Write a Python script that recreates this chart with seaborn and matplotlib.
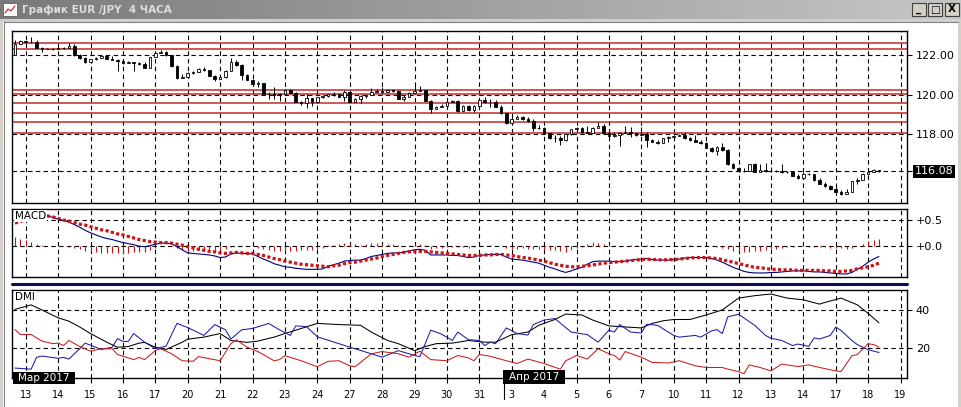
import numpy as np
import matplotlib
matplotlib.use("Agg")
import matplotlib.pyplot as plt
from matplotlib.patches import Rectangle
from matplotlib.lines import Line2D
from matplotlib.colors import LinearSegmentedColormap
import seaborn as sns

W, H = 961, 407

# 4-hour EUR/JPY candles, bar 0 = 13 Mar 00:00, six bars per trading day
first_open = 122.03
closes = [122.58, 122.72, 122.68, 122.66, 122.38, 122.34, 122.34, 122.32, 122.37, 122.40, 122.48, 122.03,
          121.86, 121.64, 121.80, 121.86, 121.95, 121.83, 121.78, 121.69, 121.60, 121.64,
          121.61, 121.57, 121.38, 121.90, 122.12, 122.17, 122.00, 121.44, 120.84, 120.90,
          121.09, 121.15, 121.32, 121.25, 120.97, 120.80, 120.88, 121.21, 121.64, 121.52,
          121.01, 120.75, 120.53, 120.58, 120.05, 120.02, 119.98, 120.05, 120.24, 120.10,
          119.64, 119.56, 119.80, 119.61, 119.85, 119.90, 120.02, 120.05, 119.88, 120.15,
          119.64, 119.76, 119.90, 119.98, 120.12, 120.20, 120.15, 120.24, 120.20, 119.78,
          119.85, 120.10, 120.20, 120.25, 119.68, 119.26, 119.35, 119.42, 119.64, 119.68,
          119.16, 119.42, 119.21, 119.42, 119.73, 119.61, 119.64, 119.38, 119.04, 118.56,
          118.75, 118.87, 118.75, 118.65, 118.31, 118.30, 118.02, 117.76, 117.76, 117.68,
          117.97, 118.22, 118.27, 118.07, 118.05, 118.30, 118.40, 118.02, 117.90, 117.93,
          118.05, 118.10, 118.03, 117.93, 118.00, 117.68, 117.59, 117.50, 117.76, 117.85,
          117.90, 117.93, 117.76, 117.68, 117.60, 117.50, 117.28, 117.11, 117.33, 117.16,
          116.43, 116.26, 116.09, 116.10, 116.43, 116.05, 116.14, 116.10, 116.07, 116.09,
          116.02, 116.05, 115.85, 115.74, 115.95, 115.93, 115.62, 115.45, 115.33, 115.16,
          115.03, 114.91, 115.03, 115.57, 115.62, 115.93, 116.02, 116.14, 116.08]
highs = [122.80, 122.77, 122.75, 122.92, 122.77, 122.45, 122.40, 122.38, 122.42, 122.45, 122.63, 122.60,
         122.07, 121.90, 121.84, 121.92, 122.00, 121.95, 121.96, 121.82, 121.73, 121.70,
         121.68, 121.65, 121.68, 121.93, 122.15, 122.27, 122.21, 122.00, 121.52, 121.04,
         121.15, 121.20, 121.38, 121.40, 121.27, 121.01, 120.95, 121.25, 121.86, 121.75,
         121.56, 121.06, 120.80, 120.71, 120.60, 120.15, 120.36, 120.10, 120.26, 120.26,
         120.15, 119.68, 120.02, 119.83, 119.88, 119.95, 120.05, 120.15, 120.05, 120.24,
         120.18, 119.80, 119.98, 120.03, 120.32, 120.27, 120.41, 120.30, 120.27, 120.24,
         120.00, 120.13, 120.50, 120.46, 120.25, 119.73, 119.42, 119.52, 119.70, 119.74,
         119.70, 119.45, 119.45, 119.45, 119.78, 119.85, 119.76, 119.70, 119.45, 119.08,
         118.92, 118.95, 118.92, 118.85, 118.75, 118.42, 118.34, 117.99, 117.92, 117.88,
         118.00, 118.25, 118.32, 118.34, 118.41, 118.34, 118.60, 118.47, 118.05, 118.10,
         118.10, 118.41, 118.36, 118.05, 118.36, 118.07, 117.71, 117.66, 117.79, 117.90,
         117.93, 117.98, 118.10, 117.85, 117.93, 117.68, 117.59, 117.33, 117.36, 117.50,
         117.20, 116.48, 116.30, 116.26, 116.46, 116.50, 116.43, 116.48, 116.30, 116.15,
         116.43, 116.10, 116.07, 115.95, 116.02, 116.00, 115.90, 115.72, 115.52, 115.38,
         115.28, 115.11, 115.16, 115.60, 115.72, 115.97, 116.10, 116.20, 116.16]
lows = [122.00, 122.63, 122.62, 122.62, 122.36, 122.17, 122.30, 122.27, 122.30, 122.35, 122.40, 121.98,
        121.83, 121.60, 121.62, 121.78, 121.90, 121.80, 121.75, 121.21, 121.57, 121.60,
        121.18, 121.52, 121.35, 121.40, 121.97, 122.10, 121.97, 121.40, 120.80, 120.82,
        121.00, 121.05, 121.13, 121.22, 120.95, 120.70, 120.78, 120.85, 121.20, 121.48,
        120.75, 120.72, 120.50, 120.36, 120.02, 119.78, 119.78, 119.68, 120.03, 120.08,
        119.60, 119.47, 119.30, 119.42, 119.58, 119.84, 119.88, 119.90, 119.85, 119.68,
        119.60, 119.70, 119.56, 119.80, 120.05, 120.15, 120.07, 120.18, 120.15, 119.75,
        119.68, 119.88, 120.10, 120.18, 119.65, 119.04, 119.28, 119.38, 119.58, 119.62,
        119.13, 119.18, 119.18, 119.13, 119.42, 119.58, 119.38, 119.35, 119.00, 118.52,
        118.56, 118.80, 118.72, 118.62, 118.14, 118.26, 117.99, 117.73, 117.59, 117.42,
        117.65, 117.95, 118.20, 118.04, 118.02, 118.03, 118.36, 117.99, 117.88, 117.85,
        117.38, 118.02, 117.85, 117.90, 117.93, 117.33, 117.56, 117.47, 117.50, 117.60,
        117.71, 117.88, 117.73, 117.65, 117.56, 117.47, 117.25, 117.08, 116.91, 117.13,
        116.40, 116.23, 116.05, 116.05, 116.07, 116.02, 116.05, 116.05, 116.05, 116.05,
        116.00, 116.00, 115.82, 115.70, 115.88, 115.88, 115.60, 115.42, 115.30, 115.13,
        114.85, 114.88, 114.95, 115.00, 115.45, 115.65, 115.88, 116.05, 116.04]

# horizontal levels drawn in red on the price panel
red_levels = [122.63, 122.32, 120.23, 120.04, 119.57, 119.06, 118.58, 118.02]
last_price = 116.08
price_ticks = [122.0, 120.0, 118.0]

# MACD main line and signal line, one value per bar
macd_line = [0.60, 0.61, 0.62, 0.61, 0.60, 0.59, 0.58, 0.55, 0.52, 0.49, 0.46, 0.41,
             0.36, 0.30, 0.25, 0.21, 0.17, 0.14, 0.12, 0.09, 0.06, 0.04,
             0.02, -0.01, -0.02, 0.00, 0.03, 0.05, 0.05, 0.04, -0.02, -0.08,
             -0.14, -0.15, -0.16, -0.17, -0.18, -0.20, -0.23, -0.22, -0.16, -0.14,
             -0.15, -0.15, -0.16, -0.21, -0.26, -0.30, -0.35, -0.38, -0.41, -0.42,
             -0.44, -0.45, -0.46, -0.46, -0.46, -0.45, -0.40, -0.37, -0.34, -0.30,
             -0.29, -0.28, -0.28, -0.25, -0.21, -0.19, -0.17, -0.15, -0.14, -0.14,
             -0.13, -0.10, -0.08, -0.07, -0.09, -0.18, -0.18, -0.18, -0.18, -0.19,
             -0.19, -0.21, -0.23, -0.22, -0.19, -0.18, -0.17, -0.17, -0.17, -0.22,
             -0.26, -0.27, -0.28, -0.30, -0.32, -0.34, -0.38, -0.42, -0.45, -0.49,
             -0.52, -0.49, -0.45, -0.42, -0.36, -0.31, -0.30, -0.30, -0.30, -0.31,
             -0.31, -0.30, -0.28, -0.27, -0.26, -0.25, -0.27, -0.28, -0.28, -0.28,
             -0.27, -0.26, -0.24, -0.23, -0.23, -0.23, -0.23, -0.25, -0.28, -0.32,
             -0.37, -0.42, -0.46, -0.50, -0.52, -0.53, -0.53, -0.53, -0.52, -0.52,
             -0.51, -0.50, -0.49, -0.49, -0.49, -0.50, -0.51, -0.51, -0.52, -0.53,
             -0.54, -0.55, -0.55, -0.52, -0.46, -0.40, -0.32, -0.26, -0.21]
macd_signal = [0.44, 0.47, 0.50, 0.53, 0.56, 0.58, 0.58, 0.56, 0.53, 0.50, 0.48, 0.45,
               0.42, 0.40, 0.37, 0.34, 0.31, 0.29, 0.26, 0.23, 0.21, 0.18,
               0.15, 0.12, 0.10, 0.08, 0.07, 0.06, 0.06, 0.05, 0.03, 0.01,
               -0.02, -0.04, -0.07, -0.09, -0.11, -0.12, -0.14, -0.15, -0.14, -0.13,
               -0.14, -0.15, -0.15, -0.17, -0.19, -0.22, -0.25, -0.27, -0.30, -0.32,
               -0.34, -0.36, -0.37, -0.38, -0.39, -0.40, -0.41, -0.39, -0.38, -0.35,
               -0.33, -0.32, -0.30, -0.28, -0.26, -0.24, -0.21, -0.19, -0.17, -0.15,
               -0.13, -0.12, -0.11, -0.11, -0.11, -0.12, -0.13, -0.14, -0.15, -0.16,
               -0.17, -0.18, -0.19, -0.19, -0.19, -0.18, -0.18, -0.17, -0.17, -0.18,
               -0.19, -0.21, -0.23, -0.24, -0.26, -0.28, -0.30, -0.33, -0.36, -0.38,
               -0.40, -0.41, -0.41, -0.40, -0.39, -0.375, -0.36, -0.34, -0.33, -0.32,
               -0.31, -0.30, -0.29, -0.28, -0.27, -0.26, -0.27, -0.27, -0.28, -0.27,
               -0.27, -0.26, -0.25, -0.24, -0.23, -0.23, -0.23, -0.24, -0.25, -0.27,
               -0.30, -0.32, -0.35, -0.37, -0.40, -0.42, -0.43, -0.44, -0.46, -0.46,
               -0.47, -0.47, -0.47, -0.48, -0.48, -0.48, -0.48, -0.48, -0.49, -0.49,
               -0.50, -0.50, -0.49, -0.48, -0.45, -0.43, -0.41, -0.38, -0.34]

# DMI: ADX (black), +DI (blue), -DI (red), read at bar positions
adx_bar = [-2, 1, 3, 6, 8, 10, 12, 15, 17, 19, 21, 22, 24, 26, 29, 30, 33, 36, 38, 41,
           43, 46, 48, 51, 54, 58, 62, 64, 67, 69, 72, 74, 76, 79, 82, 85, 87, 90, 93, 95,
           98, 100, 103, 105, 108, 110, 114, 116, 118, 120, 123, 126, 129, 132, 135, 138,
           141, 144, 147, 148, 151, 154, 156, 158]
adx_val = [40.5, 42.9, 40.2, 36.0, 34.2, 31.1, 27.6, 23.0, 20.3, 20.7, 22.5, 22.9, 20.3, 19.1,
           23.0, 24.6, 25.7, 27.6, 23.9, 22.9, 23.6, 25.7, 27.6, 30.3, 33.0, 32.4, 32.0, 28.4,
           23.9, 22.2, 18.5, 20.7, 22.2, 22.5, 23.9, 23.0, 23.0, 27.0, 28.4, 32.0, 35.1, 38.0,
           37.5, 34.8, 31.7, 31.3, 30.6, 33.0, 34.4, 35.1, 35.1, 37.5, 40.2, 46.5, 47.8, 48.7,
           46.5, 45.6, 43.3, 44.2, 46.5, 42.9, 38.4, 33.3]
pdi_bar = [-2, 1, 2, 3, 6, 7, 8, 10, 11, 13, 14, 16, 17, 18, 19, 20, 22, 24, 26, 28,
           30, 33, 35, 37, 38, 40, 42, 45, 47, 49, 50, 52, 54, 58, 61, 64, 66, 69, 71, 72,
           73, 75, 77, 79, 80, 82, 84, 85, 86, 87, 89, 91, 93, 94, 96, 98, 101, 104, 106, 108,
           109, 110, 112, 114, 115, 117, 120, 121, 124, 125, 127, 128, 129, 130, 132, 135, 137,
           138, 140, 142, 143, 145, 146, 147, 149, 150, 151, 153, 154, 156, 158]
pdi_val = [9.2, 8.6, 14.9, 15.6, 14.4, 14.9, 14.0, 19.5, 22.5, 20.3, 19.1, 20.3, 24.9, 23.4,
           23.4, 27.6, 23.0, 19.5, 20.9, 33.0, 30.8, 26.6, 32.4, 29.6, 24.7, 29.6, 30.3, 33.0,
           29.6, 26.6, 31.7, 31.3, 25.9, 22.2, 19.5, 16.8, 15.0, 18.5, 16.8, 15.9, 15.3, 29.4,
           27.3, 23.9, 28.4, 24.3, 23.9, 21.2, 23.0, 22.2, 30.6, 27.6, 26.8, 32.4, 34.8, 35.6,
           28.4, 27.0, 23.0, 29.4, 28.4, 32.4, 28.4, 27.9, 32.6, 32.0, 26.6, 25.7, 26.6, 25.7,
           29.0, 29.7, 27.6, 36.5, 37.9, 32.0, 26.6, 25.1, 23.9, 21.2, 22.0, 20.8, 25.3, 24.7,
           26.6, 31.1, 29.2, 23.9, 21.7, 19.0, 17.5]
mdi_bar = [-2, -1, 1, 3, 5, 6, 7, 8, 10, 12, 14, 16, 17, 20, 21, 22, 24, 25, 27, 29,
           31, 32, 36, 38, 39, 41, 43, 46, 47, 48, 51, 54, 56, 58, 60, 61, 64, 66, 69, 71,
           73, 75, 78, 80, 82, 83, 84, 86, 89, 91, 93, 96, 99, 100, 102, 104, 106, 108, 109, 110,
           111, 114, 116, 119, 121, 124, 126, 129, 130, 132, 133, 134, 136, 138, 140, 143, 145,
           147, 150, 151, 153, 154, 156, 157, 158]
mdi_val = [29.7, 27.1, 27.1, 23.6, 22.2, 22.5, 21.2, 23.9, 20.7, 18.2, 19.5, 19.5, 16.4, 13.7,
           14.9, 13.7, 18.5, 19.5, 16.8, 13.1, 12.8, 15.3, 13.1, 22.2, 24.3, 20.3, 18.0, 13.1,
           13.7, 15.8, 13.1, 9.9, 12.8, 13.1, 10.4, 9.9, 16.8, 18.0, 16.8, 15.0, 18.2, 13.7,
           13.1, 15.9, 14.6, 13.1, 16.4, 15.5, 13.1, 11.6, 14.0, 11.6, 8.6, 13.1, 15.9, 14.0,
           19.5, 16.8, 15.9, 13.5, 18.0, 15.0, 12.2, 11.9, 13.1, 10.4, 9.5, 9.5, 8.6, 7.3,
           6.2, 10.9, 9.5, 7.7, 11.3, 10.0, 10.9, 9.5, 7.7, 7.3, 15.8, 16.4, 22.2, 21.7, 20.4]

day_labels = ["13", "14", "15", "16", "17", "20", "21", "22", "23", "24",
              "27", "28", "29", "30", "31", "3", "4", "5", "6", "7",
              "10", "11", "12", "13", "14", "17", "18", "19"]

sns.set_style("white")
plt.rcParams["font.family"] = ["DejaVu Sans"]

fig = plt.figure(figsize=(W / 100, H / 100), dpi=100, facecolor="white")


def box(x0, y0, x1, y1):
    return [x0 / W, 1 - y1 / H, (x1 - x0) / W, (y1 - y0) / H]


def px_rect(x0, y0, x1, y1, **kw):
    z = kw.pop("zorder", 10)
    fig.add_artist(Rectangle((x0 / W, 1 - y1 / H), (x1 - x0) / W, (y1 - y0) / H,
                             transform=fig.transFigure, zorder=z, **kw))


def px_line(xs, ys, **kw):
    z = kw.pop("zorder", 11)
    fig.add_artist(Line2D([x / W for x in xs], [1 - y / H for y in ys],
                          transform=fig.transFigure, zorder=z, **kw))


def px_text(x, y, s, **kw):
    fig.text(x / W, 1 - y / H, s, zorder=12, **kw)


GRID = dict(color="black", linewidth=0.8, linestyle=(0, (4, 3)), zorder=1)
XLIM = (-2.54, 163.2)
bars = np.arange(-2, -2 + len(closes))
day_pos = np.arange(len(day_labels)) * 6

ax_p = fig.add_axes(box(12, 30.7, 907, 203))
ax_m = fig.add_axes(box(12, 209.3, 907, 276.7))
ax_d = fig.add_axes(box(12, 290, 907, 377.5))


def setup_panel(ax, ylim, levels, ticks, ticklabels):
    for d in day_pos:
        ax.axvline(d, **GRID)
    for lv in levels:
        ax.axhline(lv, **GRID)
    ax.set_xlim(*XLIM)
    ax.set_ylim(*ylim)
    ax.set_xlabel("")
    ax.set_ylabel("")
    ax.set_facecolor("white")
    for sp in ax.spines.values():
        sp.set_visible(True)
        sp.set_color("black")
        sp.set_linewidth(1.0)
    ax.yaxis.tick_right()
    ax.set_yticks(ticks)
    ax.set_yticklabels(ticklabels)
    ax.tick_params(axis="y", right=True, left=False, length=3.6, width=0.8,
                   pad=2.8, labelsize=8, colors="black")
    ax.set_xticks([])


# price panel: candles
closes_a = np.array(closes)
opens_a = np.r_[first_open, closes_a[:-1]]
up = closes_a >= opens_a
ax_p.vlines(bars, lows, highs, color="black", linewidth=0.7, zorder=3)
ax_p.bar(bars[up], (closes_a - opens_a)[up], bottom=opens_a[up], width=0.5,
         color="white", edgecolor="black", linewidth=0.6, zorder=4)
ax_p.bar(bars[~up], (closes_a - opens_a)[~up], bottom=opens_a[~up], width=0.5,
         color="black", edgecolor="black", linewidth=0.6, zorder=4)
for lv in red_levels:
    ax_p.axhline(lv, color="#c42a2a", linewidth=1.1, zorder=2)
setup_panel(ax_p, (114.46, 123.26), price_ticks + [last_price], price_ticks + [last_price],
            ["122.00", "120.00", "118.00", ""])
ax_p.text(1.0 + 7.7 / 895, last_price, "116.08", transform=ax_p.get_yaxis_transform(),
          color="white", fontsize=8, ha="left", va="center", clip_on=False,
          bbox=dict(boxstyle="square,pad=0.15", fc="black", ec="none"))

# MACD panel
hist = np.array(macd_line) - np.array(macd_signal)
ax_m.vlines(bars, 0, hist, color="#cc1010", linewidth=0.8, zorder=2)
sns.lineplot(x=bars, y=macd_line, ax=ax_m, color="#000080", linewidth=0.8, zorder=3)
ax_m.plot(bars, macd_signal, color="#cc1414", linewidth=2.3,
          linestyle=(0, (1, 0.72)), dash_capstyle="butt", zorder=4)
setup_panel(ax_m, (-0.603, 0.708), [0.5, 0.0], [0.5, 0.0], ["+0.5", "+0.0"])
ax_m.text(3 / 895, 0.975, "MACD", transform=ax_m.transAxes, ha="left", va="top",
          fontsize=7.5, color="black", zorder=6,
          bbox=dict(boxstyle="square,pad=0.1", fc="white", ec="none"))

# DMI panel
sns.lineplot(x=adx_bar, y=adx_val, ax=ax_d, color="black", linewidth=0.75, zorder=3)
sns.lineplot(x=pdi_bar, y=pdi_val, ax=ax_d, color="#1c1ca8", linewidth=0.75, zorder=3)
sns.lineplot(x=mdi_bar, y=mdi_val, ax=ax_d, color="#cc1c1c", linewidth=0.75, zorder=3)
setup_panel(ax_d, (4.16, 50.83), [40, 20], [40, 20], ["40", "20"])
ax_d.set_xticks(day_pos)
ax_d.set_xticklabels(day_labels)
ax_d.tick_params(axis="x", bottom=True, length=3.6, width=0.8, pad=5.5,
                 labelsize=7, colors="black")
ax_d.text(3 / 895, 0.975, "DMI", transform=ax_d.transAxes, ha="left", va="top",
          fontsize=7.5, color="black", zorder=6,
          bbox=dict(boxstyle="square,pad=0.1", fc="white", ec="none"))

# separator between MACD and DMI
px_line([12, 907], [283.5, 283.5], color="#0c0c58", linewidth=2.2)

# month markers
px_rect(12.7, 371.7, 75, 384.3, fc="black", ec="none")
px_text(43.8, 378, "Мар 2017", color="white", fontsize=7.5, ha="center", va="center")
px_rect(503, 370, 565, 384.3, fc="black", ec="none")
px_text(534, 377.5, "Апр 2017", color="white", fontsize=7.5, ha="center", va="center")
px_line([503.5, 503.5], [370, 399], color="black", linewidth=0.8)

# window frame and title bar
ax_t = fig.add_axes(box(0, 0, W, 19))
ax_t.imshow(np.linspace(0, 1, 256)[None, :], aspect="auto", extent=(0, 1, 0, 1),
            cmap=LinearSegmentedColormap.from_list("tb", ["#7a7a7a", "#c6c6c6"]))
ax_t.axis("off")
px_rect(0, 19, W, 22, fc="#d4d0c8", ec="none")
px_rect(0, 19, 3, H, fc="#d4d0c8", ec="none")
px_rect(W - 3, 19, W, H, fc="#d4d0c8", ec="none")
px_line([3.5, 3.5], [22, H], color="#808080", linewidth=0.8)
px_line([3.5, W - 3], [22, 22], color="#808080", linewidth=0.8)

px_rect(3, 3, 17, 16, fc="white", ec="#606060", linewidth=0.6, zorder=12)
px_line([5, 8, 11, 15], [13, 9, 11, 6], color="#cc2020", linewidth=0.8, zorder=13)
px_text(22, 10, "График EUR /JPY  4 ЧАСА", color="#dedede", fontsize=7.5,
        fontweight="bold", ha="left", va="center")

for bx, glyph in zip([912, 928, 945], ["_", "□", "X"]):
    px_rect(bx, 3, bx + 14, 16, fc="#d4d0c8", ec="#404040", linewidth=0.8, zorder=12)
    px_text(bx + 7, 9.5, glyph, color="black", fontsize=7.5, fontweight="bold",
            ha="center", va="center")

fig.savefig("out.png", dpi=100)
